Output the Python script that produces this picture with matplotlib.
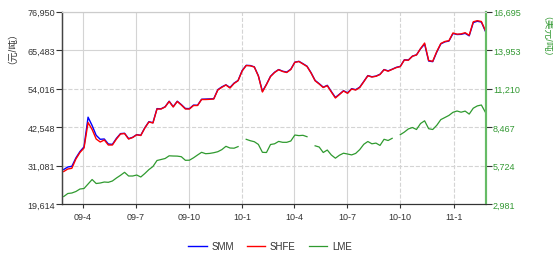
import matplotlib
matplotlib.use("Agg")
import matplotlib.pyplot as plt
import numpy as np
import pandas as pd

plt.rcParams['font.family'] = ['Liberation Sans', 'Noto Sans CJK SC', 'DejaVu Sans']

# weekly closes, Feb 2009 - Feb 2011
dates = pd.date_range('2009-02-27', periods=105, freq='7D')

shfe = [29300, 30050, 30260, 33030, 34970, 36310, 43900, 41830, 38990, 38100,
        38700, 37200, 37200, 38990, 40490, 40630, 38990, 39440, 40250, 40040,
        42270, 44060, 43770, 47940, 47940, 48540, 50180, 48540, 50180, 49130,
        47940, 47940, 48980, 48980, 50770, 50770, 50830, 50920, 53600, 54410,
        55100, 54200, 55540, 56380, 59270, 60910, 60820, 60460, 57780, 53010,
        55240, 57630, 58820, 59660, 59120, 58820, 59720, 61860, 62100, 61360,
        60610, 58670, 56350, 55390, 54350, 54890, 53010, 51220, 52260, 53310,
        52620, 53900, 53600, 54350, 56080, 57840, 57480, 57690, 58230, 59660,
        59210, 59750, 60280, 60580, 62550, 62490, 63680, 64040, 65950, 67600,
        62400, 62160, 65080, 67470, 68070, 68300, 70600, 70240, 70330, 70690,
        69910, 73940, 74270, 74030, 71290]

smm = [29900, 30650, 30850, 33350, 35250, 36650, 45500, 43000, 40100, 38900,
       39000, 37500, 37400, 39200, 40600, 40700, 39100, 39500, 40300, 40100,
       42350, 44150, 43850, 48050, 48000, 48600, 50250, 48650, 50250, 49250,
       48100, 48050, 49100, 49050, 50850, 50900, 50950, 51000, 53700, 54550,
       55150, 54350, 55650, 56450, 59400, 60950, 60900, 60500, 57850, 53200,
       55300, 57700, 58900, 59700, 59200, 58950, 59800, 61900, 62150, 61450,
       60700, 58750, 56450, 55500, 54450, 55000, 53150, 51400, 52350, 53400,
       52750, 54000, 53700, 54450, 56150, 57900, 57550, 57750, 58300, 59700,
       59300, 59800, 60350, 60650, 62600, 62550, 63700, 64100, 65900, 67300,
       62250, 62050, 64900, 67350, 67950, 68200, 70450, 70150, 70200, 70500,
       69750, 73700, 74100, 73850, 71100]

lme = [3515, 3729, 3765, 3872, 4050, 4086, 4407, 4728, 4442, 4478,
       4549, 4528, 4621, 4835, 5027, 5241, 4977, 4977, 5048, 4906,
       5155, 5433, 5655, 6083, 6154, 6225, 6418, 6403, 6396, 6354,
       6097, 6104, 6275, 6475, 6667, 6568, 6589, 6639, 6710, 6860,
       7095, 6974, 6960, 7074, np.nan, 7595, 7495, 7423, 7231, 6667,
       6653, 7224, 7274, 7445, 7380, 7380, 7473, 7901, 7858, 7880,
       7780, np.nan, 7131, 7045, 6653, 6831, 6475, 6247, 6461, 6603,
       6546, 6482, 6589, 6860, 7238, 7438, 7274, 7324, 7159, 7595,
       7509, 7666, np.nan, 7923, 8108, 8336, 8436, 8294, 8721, 8914,
       8351, 8294, 8593, 9000, 9149, 9299, 9520, 9613, 9527, 9606,
       9392, 9813, 9977, 10041, 9520]

left_ticks = [19614, 31081, 42548, 54016, 65483, 76950]
right_ticks = [2981, 5724, 8467, 11210, 13953, 16695]
x_tick_dates = pd.to_datetime(['2009-04-01', '2009-07-01', '2009-10-01', '2010-01-01',
                               '2010-04-01', '2010-07-01', '2010-10-01', '2011-01-01'])
x_tick_labels = ['09-4', '09-7', '09-10', '10-1', '10-4', '10-7', '10-10', '11-1']

fig = plt.figure(figsize=(5.53, 2.55), dpi=100)
ax = fig.add_axes([62/553, 1-205/255, (486-62)/553, (205-12.7)/255])
ax2 = ax.twinx()

ax.plot(dates, smm, color='#0000ff', lw=1.0, label='SMM')
ax.plot(dates, shfe, color='#ff0000', lw=1.0, label='SHFE')
ax2.plot(dates, lme, color='#2f9a2f', lw=0.9, label='LME')

ax.set_xlim(pd.Timestamp('2009-02-24'), pd.Timestamp('2011-02-26'))
ax.set_ylim(left_ticks[0], left_ticks[-1])
ax2.set_ylim(right_ticks[0], right_ticks[-1])

ax.set_yticks(left_ticks)
ax.set_yticklabels([f'{v:,}' for v in left_ticks])
ax2.set_yticks(right_ticks)
ax2.set_yticklabels([f'{v:,}' for v in right_ticks])
ax.set_xticks(x_tick_dates)
ax.set_xticklabels(x_tick_labels)

ax.tick_params(axis='y', labelsize=6.5, colors='#333333', length=4, width=0.8, pad=1)
ax.tick_params(axis='x', labelsize=6.5, colors='#333333', length=3, width=0.8, pad=3)
ax2.tick_params(axis='y', labelsize=6.5, length=4, width=0.8, color='#333333',
                labelcolor='#339933', pad=1)

# grid: mix of solid and dashed lines like the original
ax.grid(True, color='#d4d4d4', lw=0.8)
x_grid_styles = ['-', '-', '-', '--', '-', '-', '--', '--']
y_grid_styles = ['-', '--', '--', '--', '-', '-']
for gl, st in zip(ax.get_xgridlines(), x_grid_styles):
    gl.set_linestyle(st)
for gl, st in zip(ax.get_ygridlines(), y_grid_styles):
    gl.set_linestyle(st)
ax.set_axisbelow(True)

for a in (ax, ax2):
    a.spines['top'].set_color('#cccccc')
    a.spines['left'].set_color('#444444')
    a.spines['bottom'].set_color('#333333')
    a.spines['right'].set_color('#66bb66')
    a.spines['right'].set_linewidth(1.5)
ax.spines['left'].set_linewidth(1.0)

fig.text(7/553, 1-43/255, '（元/吨）', rotation=90, ha='center', va='center',
         fontsize=7, color='#333333')
fig.text(541/553, 1-42/255, '（美元/吨）', rotation=270, ha='center', va='center',
         fontsize=7, color='#339933')

h1, l1 = ax.get_legend_handles_labels()
h2, l2 = ax2.get_legend_handles_labels()
fig.legend(h1 + h2, l1 + l2, loc='center', bbox_to_anchor=(270/553, 1-247/255),
           ncol=3, frameon=False, fontsize=7, handlelength=1.9, handletextpad=0.5,
           columnspacing=1.3, labelcolor='#333333')

fig.savefig('out.png', dpi=100)
